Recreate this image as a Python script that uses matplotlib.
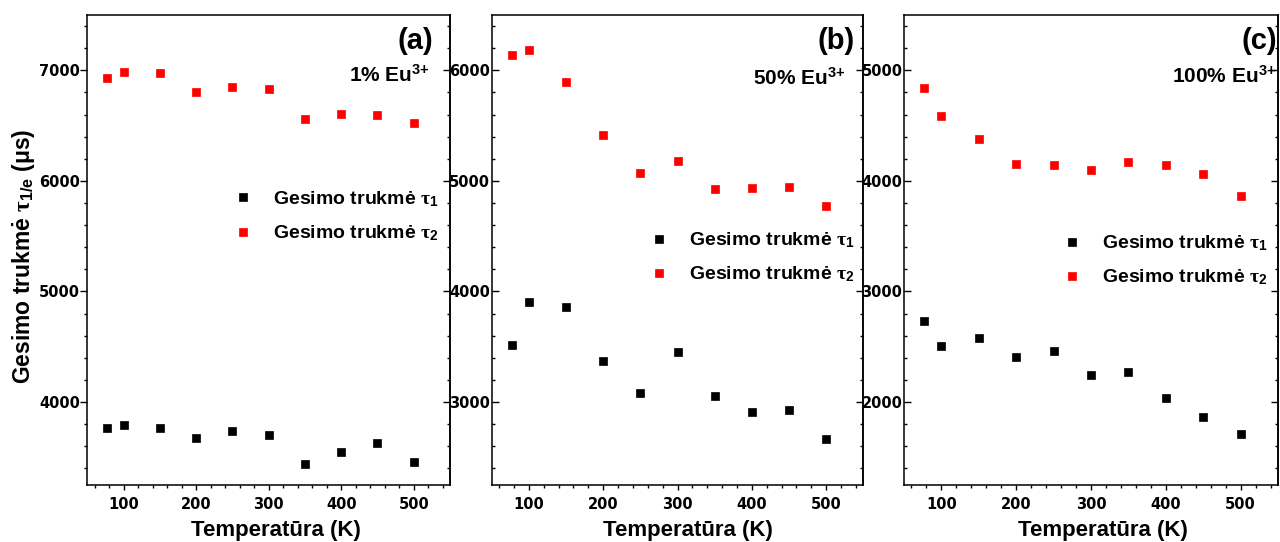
import matplotlib
matplotlib.use("Agg")
import matplotlib.pyplot as plt
from matplotlib.ticker import MultipleLocator

# =========================
# Data
# =========================
temps = [77, 100, 150, 200, 250, 300, 350, 400, 450, 500]

tau1_1pct = [3766, 3794, 3766, 3672, 3741, 3703, 3441, 3550, 3628, 3459]
tau2_1pct = [6931, 6984, 6972, 6803, 6850, 6831, 6562, 6606, 6597, 6519]

tau1_50pct = [3516, 3906, 3859, 3372, 3078, 3453, 3053, 2909, 2928, 2666]
tau2_50pct = [6141, 6181, 5894, 5412, 5069, 5184, 4925, 4934, 4944, 4775]

tau1_100pct = [2731, 2509, 2581, 2409, 2459, 2244, 2275, 2041, 1863, 1709]
tau2_100pct = [4838, 4584, 4378, 4153, 4147, 4100, 4175, 4147, 4059, 3863]

panel_tags = ["(a)", "(b)", "(c)"]
conc_labels = ["1% Eu$^{3{+}}$", "50% Eu$^{3{+}}$", "100% Eu$^{3{+}}$"]
ylims = [(3250, 7500), (2250, 6500), (1250, 5500)]

label_t1 = r"Gesimo trukmė $\tau_1$"
label_t2 = r"Gesimo trukmė $\tau_2$"

# =========================
# Fonts
# =========================
plt.rcParams["font.family"] = ["Liberation Sans", "DejaVu Sans"]
plt.rcParams["font.weight"] = "bold"
plt.rcParams["mathtext.fontset"] = "custom"
plt.rcParams["mathtext.rm"] = "Liberation Sans:bold"
plt.rcParams["mathtext.bf"] = "Liberation Sans:bold"
plt.rcParams["mathtext.it"] = "Liberation Serif:bold"

# =========================
# Layout (pixel boxes of the three panels)
# =========================
W, H = 1280, 542
fig = plt.figure(figsize=(W / 100, H / 100), dpi=100)

boxes = [(87.3, 450.0), (491.7, 863.3), (904.0, 1278.0)]
top_px, bot_px = 15.0, 485.0

# per-panel text placement (axes fraction)
tag_x = [0.953, 0.978, 0.997]
conc_x = [0.945, 0.951, 0.995]
conc_y = [0.858, 0.852, 0.855]
leg_x = [0.4025, 0.4241, 0.4233]
leg_y = [0.572, 0.484, 0.478]
xlab_x = [0.519, 0.527, 0.532]
left_dir = ["out", "in", "in"]

series = [(tau1_1pct, tau2_1pct), (tau1_50pct, tau2_50pct), (tau1_100pct, tau2_100pct)]

for i, ((x0, x1), (t1, t2)) in enumerate(zip(boxes, series)):
    ax = fig.add_axes([x0 / W, 1 - bot_px / H, (x1 - x0) / W, (bot_px - top_px) / H])

    ax.plot(temps, t1, ls="none", marker="s", ms=5.6, mew=0.5,
            color="black", label=label_t1)
    ax.plot(temps, t2, ls="none", marker="s", ms=5.6, mew=0.5,
            color="#ff0000", label=label_t2)

    ax.set_xlim(50, 550)
    ax.set_ylim(*ylims[i])
    ax.xaxis.set_major_locator(MultipleLocator(100))
    ax.xaxis.set_minor_locator(MultipleLocator(20))
    ax.yaxis.set_major_locator(MultipleLocator(1000))
    ax.yaxis.set_minor_locator(MultipleLocator(200))

    for sp in ax.spines.values():
        sp.set_linewidth(1.1)

    ax.tick_params(axis="x", which="both", direction="out", top=False,
                   width=1.0, labelsize=10.5, pad=5.0, labelfontfamily="DejaVu Sans")
    ax.tick_params(axis="x", which="major", length=3.6)
    ax.tick_params(axis="x", which="minor", length=2.4)
    ax.tick_params(axis="y", which="both", direction=left_dir[i], right=False,
                   width=1.0, labelsize=10.5, pad=1.2 if i else 0.4,
                   labelfontfamily="DejaVu Sans")
    ax.tick_params(axis="y", which="major", length=4.8)
    ax.tick_params(axis="y", which="minor", length=2.4)

    # mirrored ticks on the right spine, pointing inward, no labels
    sec = ax.secondary_yaxis("right")
    sec.yaxis.set_major_locator(MultipleLocator(1000))
    sec.yaxis.set_minor_locator(MultipleLocator(200))
    sec.tick_params(which="both", direction="in", width=1.0, labelright=False)
    sec.tick_params(which="major", length=4.8)
    sec.tick_params(which="minor", length=2.4)
    sec.spines["right"].set_linewidth(1.1)

    ax.set_xlabel("Temperatūra (K)", fontsize=16, fontweight="bold")
    ax.xaxis.set_label_coords(xlab_x[i], -0.074)

    ax.text(tag_x[i], 0.944, panel_tags[i], transform=ax.transAxes,
            ha="right", va="center", fontsize=21, fontweight="bold")
    ax.text(conc_x[i], conc_y[i], conc_labels[i], transform=ax.transAxes,
            ha="right", va="baseline", fontsize=15, fontweight="bold")

    ax.legend(loc="center left", bbox_to_anchor=(leg_x[i], leg_y[i]),
              frameon=False, borderpad=0, borderaxespad=0,
              handlelength=1.0, handletextpad=1.06, labelspacing=0.74,
              numpoints=1, prop={"weight": "bold", "size": 14})

    if i == 0:
        ax.set_ylabel(r"Gesimo trukmė $\tau_{\mathrm{1/e}}$ (μs)",
                      fontsize=16.5, fontweight="bold")
        ax.yaxis.set_label_coords(-0.14, 0.486)

fig.savefig("out.png", dpi=100)
